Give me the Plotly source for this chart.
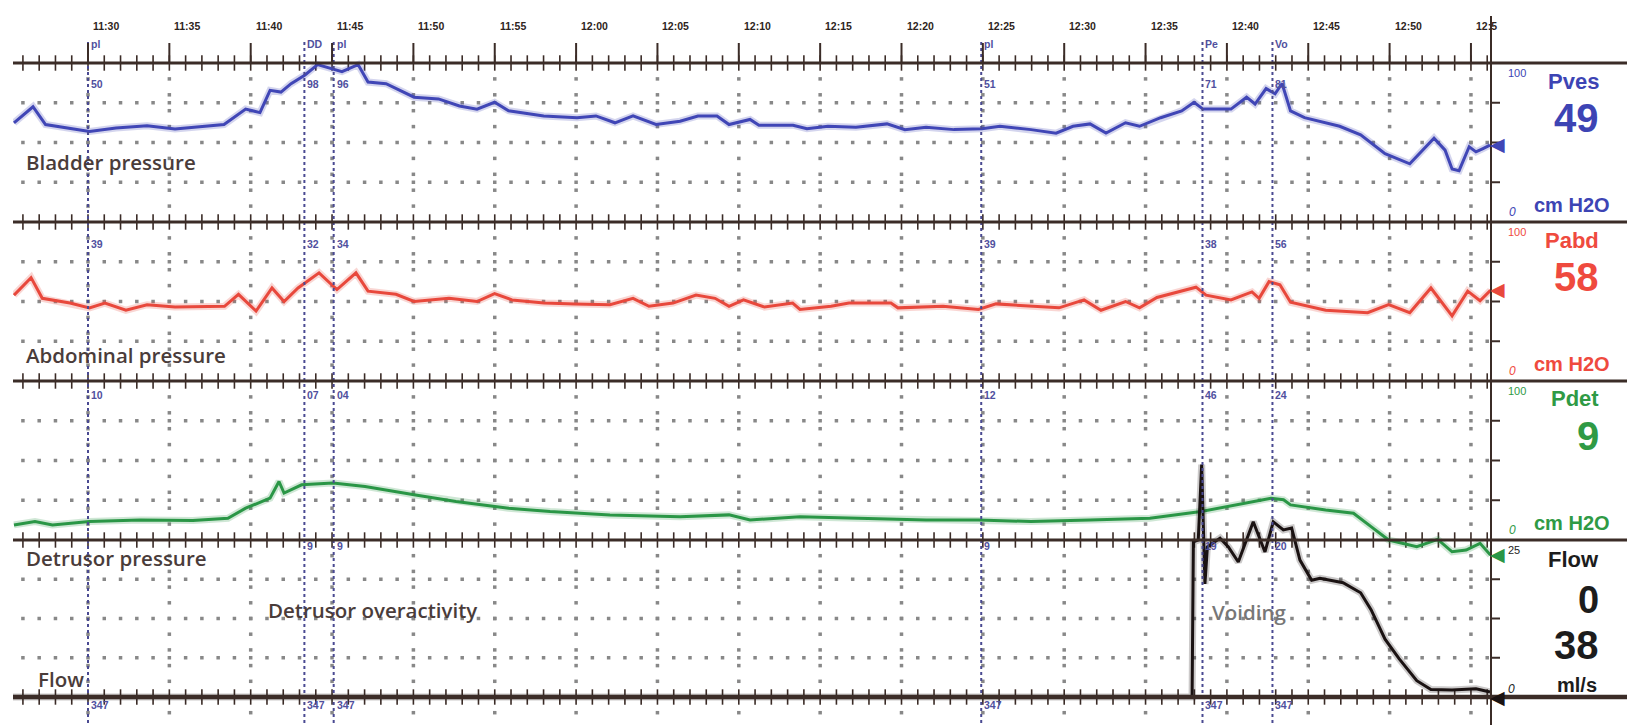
import plotly.graph_objects as go

W, H = 1631, 725

# ---------------- data (time in minutes after 11:30) ----------------
PVES_T = [-4.55, -3.38, -2.61, -1.11, 0.09, 1.72, 3.63, 5.35, 8.36, 9.69, 10.57, 11.19, 11.86, 12.48,
          13.34, 14.11, 14.87, 15.61, 16.6, 17.21, 18.32, 19.18, 20.04, 21.54, 22.83, 23.91, 24.99,
          25.85, 28.01, 30.06, 31.22, 32.39, 33.5, 34.91, 36.39, 37.49, 38.66, 39.4, 40.69, 41.24,
          43.33, 44.19, 45.48, 47.2, 49.11, 50.21, 51.51, 53.23, 54.95, 56.05, 57.96, 59.5, 60.54,
          61.59, 62.57, 63.77, 64.63, 65.93, 67.22, 67.98, 68.53, 70.25, 71.21, 71.73, 72.41, 72.96,
          73.39, 73.91, 74.77, 76.93, 78.22, 79.72, 81.24, 82.73, 83.41, 83.84, 84.27, 84.89, 85.31,
          85.74, 86.17]
PVES_V = [62.4, 72.5, 61.3, 59.1, 57.0, 59.1, 60.6, 58.5, 61.3, 71.0, 68.8, 82.8, 81.7, 87.0,
          92.5, 99.0, 96.8, 94.6, 99.0, 88.0, 87.0, 82.8, 78.5, 77.4, 73.0, 71.0, 75.3,
          70.0, 66.7, 65.6, 66.7, 62.4, 66.7, 61.3, 63.4, 66.7, 66.7, 61.3, 64.5, 60.9,
          60.9, 58.7, 60.2, 59.6, 61.7, 58.1, 59.6, 58.1, 58.7, 60.2, 58.1, 55.9, 60.2,
          61.7, 55.9, 62.4, 60.2, 65.6, 69.9, 75.3, 71.0, 71.0, 78.5, 74.2, 83.9, 80.6,
          87.1, 69.9, 65.6, 60.2, 54.8, 43.0, 36.6, 52.7, 45.2, 33.3, 32.3, 47.3, 44.1,
          46.2, 48.4]

PABD_T = [-4.55, -3.5, -2.81, -1.11, 0.09, 1.04, 2.33, 3.63, 5.35, 8.39, 9.25, 10.33, 11.31, 12.05,
          12.91, 14.2, 15.3, 16.47, 17.21, 18.93, 20.04, 22.19, 23.91, 24.99, 26.06, 28.03, 29.93,
          32.08, 33.5, 34.48, 35.96, 37.37, 38.54, 39.4, 40.29, 41.58, 43.31, 43.76, 45.67, 46.77,
          49.35, 49.78, 52.55, 54.73, 55.81, 57.96, 59.68, 61.22, 62.26, 63.77, 64.63, 65.7, 68.1,
          68.72, 70.25, 71.54, 71.98, 72.59, 73.26, 73.91, 76.07, 78.65, 79.94, 81.24, 82.54, 83.84,
          84.8, 85.56, 86.2]
PABD_V = [54.0, 65.0, 52.0, 49.0, 46.0, 49.0, 44.5, 48.0, 46.5, 47.0, 54.5, 44.0, 58.5, 50.0,
          58.5, 68.0, 57.5, 68.0, 56.5, 54.5, 50.0, 52.0, 50.0, 55.0, 51.0, 49.0, 48.5,
          48.0, 52.0, 47.0, 49.0, 54.0, 52.0, 47.0, 51.0, 46.5, 49.0, 45.0, 47.0, 49.0,
          49.0, 46.0, 47.0, 45.0, 48.5, 47.0, 46.0, 51.0, 44.5, 50.0, 46.0, 52.5, 59.0,
          54.0, 51.0, 56.0, 52.0, 62.5, 60.5, 49.5, 44.5, 43.0, 48.0, 43.0, 58.5, 41.0,
          56.5, 50.5, 57.0]

PDET_T = [-4.55, -3.26, -2.18, 0.09, 3.2, 6.45, 8.6, 9.69, 11.19, 11.74, 12.05, 13.13, 15.06, 17.03,
          20.04, 22.62, 25.85, 28.4, 32.08, 36.39, 39.4, 40.69, 43.76, 47.2, 51.51, 54.73, 57.96,
          61.59, 65.27, 68.41, 70.68, 72.71, 73.48, 73.91, 76.07, 77.78, 78.86, 79.94, 81.67, 82.96,
          83.84, 84.7, 85.56, 86.2]
PDET_V = [9.5, 11.6, 9.5, 11.6, 12.6, 12.2, 13.7, 20.0, 26.3, 36.8, 29.5, 34.7, 35.8, 33.7,
          28.4, 24.2, 20.0, 17.9, 15.8, 14.7, 15.8, 12.6, 14.7, 13.7, 12.6, 12.6, 11.6,
          12.6, 13.7, 17.9, 22.1, 26.3, 25.3, 22.1, 18.9, 16.8, 8.4, 0.0, -4.2, 0.4,
          -7.4, -6.3, -2.1, -9.5]

FLOW_T = [-4.61, 67.86, 67.94, 68.24, 68.45, 68.65, 68.8, 69.58, 70.09, 70.7, 71.62, 72.34, 72.85,
          73.47, 73.98, 74.49, 75.21, 75.72, 77.14, 78.22, 78.86, 79.72, 80.58, 81.67, 82.54, 83.84,
          85.31, 86.17]
FLOW_V = [0.0, 0.0, 24.7, 25.0, 37.0, 18.0, 23.9, 25.3, 23.9, 21.5, 27.9, 23.1, 27.9,
          26.6, 26.9, 21.8, 18.6, 18.9, 18.2, 16.6, 13.9, 9.2, 6.1, 2.6, 1.2, 1.1,
          1.3, 0.8]

TIME_TICKS = [0, 5, 10, 15, 20, 25, 30, 35, 40, 45, 50, 55, 60, 65, 70, 75, 80, 85]
TIME_LABELS = ["11:30", "11:35", "11:40", "11:45", "11:50", "11:55", "12:00", "12:05", "12:10",
               "12:15", "12:20", "12:25", "12:30", "12:35", "12:40", "12:45", "12:50", "12:5"]

EVENT_T = [0.0, 13.3, 15.1, 54.9, 68.5, 72.8]
EVENT_NAMES = ["pl", "DD", "pl", "pl", "Pe", "Vo"]
PVES_AT = ["50", "98", "96", "51", "71", "81"]
PABD_AT = ["39", "32", "34", "39", "38", "56"]
PDET_AT = ["10", "07", "04", "12", "46", "24"]
FLOW_AT = ["", "9", "9", "9", "19", "20"]
VOL_AT = ["347", "347", "347", "347", "347", "347"]

CUR_PVES, CUR_PABD, CUR_PDET, CUR_FLOW = 49, 58, -9, 0
QMAX = "38"

# ---------------- geometry ----------------
X_LEFT, X_AXIS, X_END = 13, 1491, 1627
T0_PX, PX_MIN = 88, 16.27
T_LEFT = (X_LEFT - T0_PX) / PX_MIN
T_RIGHT = (X_AXIS - T0_PX) / PX_MIN

DARK = "#3b2c27"
GRID = "#888888"
EVC = "#4a4a92"


def px(x):
    return x / W


def py(y):
    return 1 - y / H


panels = [
    dict(ax="y", name="Pves", top=63, zero=222, topv=100, dtop=50, dbot=232, color="#3d44b4",
         lcolor="#4046b6", cur=CUR_PVES, label="Bladder pressure", lab_y=162, vals=PVES_AT,
         big=str(CUR_PVES), T=PVES_T, V=PVES_V, unit="cm H2O"),
    dict(ax="y2", name="Pabd", top=222, zero=381, topv=100, dtop=212, dbot=392, color="#ef4a3e",
         lcolor="#e8483c", cur=CUR_PABD, label="Abdominal pressure", lab_y=355, vals=PABD_AT,
         big=str(CUR_PABD), T=PABD_T, V=PABD_V, unit="cm H2O"),
    dict(ax="y3", name="Pdet", top=381, zero=540, topv=100, dtop=371, dbot=572, color="#2f9a45",
         lcolor="#2a9646", cur=CUR_PDET, label="Detrusor pressure", lab_y=558, vals=PDET_AT,
         big=str(abs(CUR_PDET)), T=PDET_T, V=PDET_V, unit="cm H2O"),
    dict(ax="y4", name="Flow", top=540, zero=697, topv=25, dtop=440, dbot=725, color="#1c1c1c",
         lcolor="#1a1212", cur=CUR_FLOW, label="Flow", lab_y=679, vals=FLOW_AT,
         big=str(CUR_FLOW), T=FLOW_T, V=FLOW_V, unit="ml/s"),
]

fig = go.Figure()
layout = dict(width=W, height=H, margin=dict(l=0, r=0, t=0, b=0), autosize=False,
              paper_bgcolor="white", plot_bgcolor="rgba(0,0,0,0)", showlegend=False,
              xaxis=dict(domain=[px(X_LEFT), px(X_AXIS)], range=[T_LEFT, T_RIGHT], visible=False,
                         anchor="y4"))

for p in panels:
    ppu = (p["zero"] - p["top"]) / p["topv"]
    rtop = (p["zero"] - p["dtop"]) / ppu
    rbot = (p["zero"] - p["dbot"]) / ppu
    key = "yaxis" if p["ax"] == "y" else "yaxis" + p["ax"][1:]
    layout[key] = dict(domain=[py(p["dbot"]), py(p["dtop"])], range=[rbot, rtop], visible=False,
                       anchor="x")

fig.update_layout(**layout)

shapes = []
annotations = []

# grid dots
for p in panels:
    topv = p["topv"]
    gx, gy = [], []
    for frac in (0.25, 0.5, 0.75):
        for m in range(-4, 87):
            gx.append(m)
            gy.append(topv * frac)
    for t in TIME_TICKS:
        for k in range(1, 10):
            gx.append(t)
            gy.append(topv * k / 10)
    if p["name"] == "Flow":
        for t in TIME_TICKS:
            gx.append(t)
            gy.append(-topv / 10)
    fig.add_trace(go.Scatter(x=gx, y=gy, mode="markers", yaxis=p["ax"], hoverinfo="skip",
                             marker=dict(symbol="square", size=3.5, color=GRID), cliponaxis=False))

# event dotted lines
for t in EVENT_T:
    shapes.append(dict(type="line", xref="x", yref="paper", x0=t, x1=t, y0=py(42), y1=0,
                       line=dict(color=EVC, width=2, dash="dot")))

# boundary lines
bounds = [("y", 100, 3), ("y", 0, 3), ("y2", 0, 3), ("y3", 0, 3), ("y4", 0, 4.5)]
for ax, val, wdt in bounds:
    shapes.append(dict(type="line", xref="paper", yref=ax, x0=px(X_LEFT), x1=px(X_END),
                       y0=val, y1=val, line=dict(color=DARK, width=wdt)))
    mx = list(range(-4, 87))
    fig.add_trace(go.Scatter(x=mx, y=[val] * len(mx), mode="markers", yaxis=ax, hoverinfo="skip",
                             cliponaxis=False,
                             marker=dict(symbol="line-ns", size=11, line=dict(color=DARK, width=1.6))))

# major ticks on top axis
for t in TIME_TICKS:
    shapes.append(dict(type="line", xref="x", yref="paper", x0=t, x1=t, y0=py(63), y1=py(43),
                       line=dict(color=DARK, width=2)))

# right vertical axis
shapes.append(dict(type="line", xref="paper", yref="paper", x0=px(X_AXIS), x1=px(X_AXIS),
                   y0=0, y1=py(16), line=dict(color=DARK, width=2)))
for p in panels:
    for frac in (0.25, 0.5, 0.75):
        shapes.append(dict(type="line", xref="paper", yref=p["ax"], x0=px(X_AXIS), x1=px(X_AXIS + 9),
                           y0=p["topv"] * frac, y1=p["topv"] * frac, line=dict(color=DARK, width=2)))

# data traces (soft halo + line)
for p in panels:
    fig.add_trace(go.Scatter(x=p["T"], y=p["V"], mode="lines", yaxis=p["ax"], hoverinfo="skip",
                             line=dict(color=p["lcolor"], width=7), opacity=0.22))
    fig.add_trace(go.Scatter(x=p["T"], y=p["V"], mode="lines", yaxis=p["ax"], hoverinfo="skip",
                             line=dict(color=p["lcolor"], width=3)))
    # current-value pointer on the right axis
    annotations.append(dict(x=T_RIGHT, y=p["cur"], xref="x", yref=p["ax"], text="◀", showarrow=False,
                            xanchor="left", xshift=-3, yanchor="middle",
                            font=dict(family="DejaVu Sans", size=19, color=p["lcolor"])))

LAB_FONT = dict(family="Open Sans, Liberation Sans, sans-serif", size=20.5, color="#4a3c3a", weight=600)
NUM_FONT = "Liberation Sans, Arial, sans-serif"


def ann(x, y, text, font, xanchor="center", yanchor="middle"):
    annotations.append(dict(x=px(x), y=py(y), xref="paper", yref="paper", text=text, showarrow=False,
                            font=font, xanchor=xanchor, yanchor=yanchor))


# time labels
for t, lab in zip(TIME_TICKS, TIME_LABELS):
    annotations.append(dict(x=t, y=py(18), xref="x", yref="paper", text=lab, showarrow=False,
                            xanchor="left", xshift=3,
                            font=dict(family=NUM_FONT, size=10.5, color="#2e2420", weight=700)))

# event labels and values
for t, nm, a, b, c, d, e in zip(EVENT_T, EVENT_NAMES, PVES_AT, PABD_AT, PDET_AT, FLOW_AT, VOL_AT):
    for txt, ypx in ((nm, 36), (a, 76), (b, 236), (c, 395), (d, 554), (e, 713)):
        if txt:
            annotations.append(dict(x=t, y=py(ypx), xref="x", yref="paper", text=txt, showarrow=False,
                                    xanchor="left", xshift=1,
                                    font=dict(family=NUM_FONT, size=10.5, color="#50509e", weight=700)))

# panel labels (left)
for p in panels:
    xl = 36 if p["name"] == "Flow" else 24
    ann(xl, p["lab_y"], p["label"], LAB_FONT, xanchor="left")
ann(266, 610, "Detrusor overactivity", LAB_FONT, xanchor="left")
ann(1210, 612, "Voiding", dict(LAB_FONT, color="#777777"), xanchor="left")

# right-hand labels
RX = 1601
for p in panels:
    c = p["color"]
    T = p["top"]
    ann(1506, T + 10, str(p["topv"]), dict(family=NUM_FONT, size=11, color=c), xanchor="left")
    if p["name"] != "Flow":
        ann(1507, T + 149, "0", dict(family=NUM_FONT, size=12, color=c, style="italic"), xanchor="left")
        ann(RX, T + 18, p["name"], dict(family=NUM_FONT, size=22, color=c, weight=700), xanchor="right")
        ann(RX, T + 55, p["big"], dict(family=NUM_FONT, size=40, color=c, weight=700), xanchor="right")
        ann(1572, T + 142, p["unit"], dict(family=NUM_FONT, size=20, color=c, weight=700))
    else:
        ann(1506, 689, "0", dict(family=NUM_FONT, size=12, color=c, style="italic"), xanchor="left")
        ann(RX, 559, p["name"], dict(family=NUM_FONT, size=22, color=c, weight=700), xanchor="right")
        ann(RX, 600, p["big"], dict(family=NUM_FONT, size=38, color=c, weight=700), xanchor="right")
        ann(RX, 645, QMAX, dict(family=NUM_FONT, size=40, color=c, weight=700), xanchor="right")
        ann(RX - 2, 685, p["unit"], dict(family=NUM_FONT, size=20, color=c, weight=700), xanchor="right")

fig.update_layout(shapes=shapes, annotations=annotations)
fig.write_html("out.html")
